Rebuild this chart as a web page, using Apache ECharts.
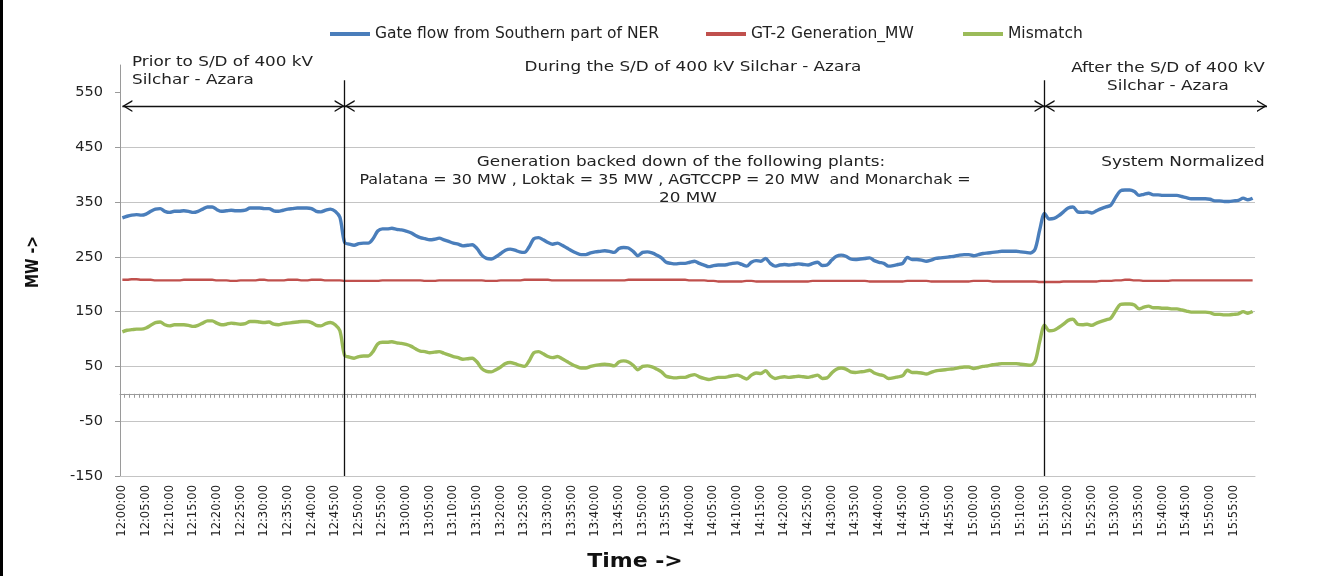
<!DOCTYPE html>
<html>
<head>
<meta charset="utf-8">
<script src="https://cdn.jsdelivr.net/npm/echarts@6/dist/echarts.min.js"></script>
<style>
  html, body { margin: 0; background: #fff; }
  #chart { width: 1339px; height: 576px; }
</style>
</head>
<body>
<div id="chart"></div>
<script>
/* ---- data (one reading per minute, 12:00 .. 15:59) ---- */
const gateFlow = [
  321, 324, 326, 327, 326, 328, 333, 337, 338, 333,
  331, 333, 333, 334, 333, 331, 333, 337, 341, 341,
  336, 333, 334, 335, 334, 334, 335, 339, 339, 339,
  338, 338, 334, 333, 335, 337, 338, 339, 339, 339,
  338, 333, 332, 335, 337, 333, 322, 276, 273, 271,
  274, 275, 275, 283, 297, 301, 301, 302, 300, 299,
  297, 294, 289, 285, 283, 281, 282, 284, 281, 278,
  275, 273, 270, 271, 272, 265, 253, 247, 246, 250,
  256, 262, 264, 262, 259, 258, 268, 283, 285, 281,
  276, 273, 275, 271, 266, 261, 257, 254, 254, 257,
  259, 260, 261, 260, 258, 265, 267, 266, 260, 252,
  258, 259, 257, 253, 248, 240, 238, 237, 238, 238,
  240, 242, 238, 235, 232, 234, 235, 235, 236, 238,
  239, 236, 233, 240, 243, 242, 247, 238, 233, 235,
  236, 235, 236, 237, 236, 235, 238, 240, 234, 235,
  244, 251, 253, 251, 246, 245, 246, 247, 248, 243,
  240, 238, 233, 234, 236, 238, 249, 245, 245, 244,
  242, 244, 247, 248, 249, 250, 251, 253, 254, 254,
  252, 254, 256, 257, 258, 259, 260, 260, 260, 260,
  259, 258, 257, 264, 300, 329, 319, 320, 325, 332,
  339, 341, 332, 331, 332, 330, 334, 338, 341, 344,
  358, 370, 372, 372, 369, 362, 364, 366, 363, 363,
  362, 362, 362, 362, 360, 358, 356, 356, 356, 356,
  355, 352, 352, 351, 351, 352, 353, 357, 354, 357
];
const gt2Generation = [
  208, 208, 209, 209, 208, 208, 208, 207, 207, 207,
  207, 207, 207, 208, 208, 208, 208, 208, 208, 208,
  207, 207, 207, 206, 206, 207, 207, 207, 207, 208,
  208, 207, 207, 207, 207, 208, 208, 208, 207, 207,
  208, 208, 208, 207, 207, 207, 207, 206, 206, 206,
  206, 206, 206, 206, 206, 207, 207, 207, 207, 207,
  207, 207, 207, 207, 206, 206, 206, 207, 207, 207,
  207, 207, 207, 207, 207, 207, 207, 206, 206, 206,
  207, 207, 207, 207, 207, 208, 208, 208, 208, 208,
  208, 207, 207, 207, 207, 207, 207, 207, 207, 207,
  207, 207, 207, 207, 207, 207, 207, 208, 208, 208,
  208, 208, 208, 208, 208, 208, 208, 208, 208, 208,
  207, 207, 207, 207, 206, 206, 205, 205, 205, 205,
  205, 205, 206, 206, 205, 205, 205, 205, 205, 205,
  205, 205, 205, 205, 205, 205, 206, 206, 206, 206,
  206, 206, 206, 206, 206, 206, 206, 206, 205, 205,
  205, 205, 205, 205, 205, 205, 206, 206, 206, 206,
  206, 205, 205, 205, 205, 205, 205, 205, 205, 205,
  206, 206, 206, 206, 205, 205, 205, 205, 205, 205,
  205, 205, 205, 205, 204, 204, 204, 204, 204, 205,
  205, 205, 205, 205, 205, 205, 205, 206, 206, 206,
  207, 207, 208, 208, 207, 207, 206, 206, 206, 206,
  206, 206, 207, 207, 207, 207, 207, 207, 207, 207,
  207, 207, 207, 207, 207, 207, 207, 207, 207, 207
];
const mismatch = [
  113, 116, 117, 118, 118, 120, 125, 130, 131, 126,
  124, 126, 126, 126, 125, 123, 125, 129, 133, 133,
  129, 126, 127, 129, 128, 127, 128, 132, 132, 131,
  130, 131, 127, 126, 128, 129, 130, 131, 132, 132,
  130, 125, 124, 128, 130, 126, 115, 70, 67, 65,
  68, 69, 69, 77, 91, 94, 94, 95, 93, 92,
  90, 87, 82, 78, 77, 75, 76, 77, 74, 71,
  68, 66, 63, 64, 65, 58, 46, 41, 40, 44,
  49, 55, 57, 55, 52, 50, 60, 75, 77, 73,
  68, 66, 68, 64, 59, 54, 50, 47, 47, 50,
  52, 53, 54, 53, 51, 58, 60, 58, 52, 44,
  50, 51, 49, 45, 40, 32, 30, 29, 30, 30,
  33, 35, 31, 28, 26, 28, 30, 30, 31, 33,
  34, 31, 27, 34, 38, 37, 42, 33, 28, 30,
  31, 30, 31, 32, 31, 30, 32, 34, 28, 29,
  38, 45, 47, 45, 40, 39, 40, 41, 43, 38,
  35, 33, 28, 29, 31, 33, 43, 39, 39, 38,
  36, 39, 42, 43, 44, 45, 46, 48, 49, 49,
  46, 48, 50, 51, 53, 54, 55, 55, 55, 55,
  54, 53, 52, 59, 96, 125, 115, 116, 121, 127,
  134, 136, 127, 126, 127, 125, 129, 132, 135, 138,
  151, 163, 164, 164, 162, 155, 158, 160, 157, 157,
  156, 156, 155, 155, 153, 151, 149, 149, 149, 149,
  148, 145, 145, 144, 144, 145, 146, 150, 147, 150
];
const seriesNames = ["Gate flow from Southern part of NER", "GT-2 Generation_MW", "Mismatch"];
const seriesColors = ["#4A7EBB", "#C0504D", "#9BBB59"];
const yTicks = [-150, -50, 50, 150, 250, 350, 450, 550];

// time categories, one per minute
const times = [];
for (let m = 0; m < gateFlow.length; m++) {
  const h = 12 + Math.floor(m / 60), mm = m % 60;
  times.push(h + ":" + String(mm).padStart(2, "0") + ":00");
}

/* ---- annotation anchors (data coords) ---- */
const sdStart = "12:47:00", sdEnd = "15:15:00";
const arrowLevel = 525, dividerTop = 572;

const FONT = "DejaVu Sans";
const GRID = "#c4c4c4", AXIS = "#9a9a9a", INK = "#222";
const SX = 1.16; // the source text is a little wide

// open chevron, tip at top centre
const chevron = "path://M6,0 L12,10 L10.4,10 L6,2.6 L1.6,10 L0,10 Z";
const arrowStyle = { color: "#111", width: 1.3, type: "solid" };
const divStyle = { color: "#111", width: 1.3, type: "solid" };
const arrowEnd = { symbol: chevron, symbolSize: [12, 10], symbolOffset: [0, 5] };

function note(x, y, text, align, sx) {
  return {
    type: "text", x, y, scaleX: sx || SX,
    style: { text, font: `14.5px '${FONT}'`, fill: INK, align: align || "center", verticalAlign: "middle", lineHeight: 18 },
  };
}

function legendAt(i, left) {
  return {
    data: [seriesNames[i]], left, top: 26, padding: 0,
    icon: "rect", itemWidth: 40, itemHeight: 4,
    textStyle: { fontFamily: FONT, fontSize: 15.5, color: INK },
  };
}

const chart = echarts.init(document.getElementById("chart"), null, { renderer: "canvas" });

chart.setOption({
  animation: false,
  backgroundColor: "#fff",
  textStyle: { fontFamily: FONT },
  legend: [legendAt(0, 330), legendAt(1, 706), legendAt(2, 963)],
  grid: { left: 120, right: 84, top: 65, bottom: 100 },
  xAxis: [
    {
      type: "category", data: times, position: "bottom",
      axisLine: { onZero: false, lineStyle: { color: GRID } },
      axisTick: { show: false },
      axisLabel: { interval: 4, rotate: 90, fontFamily: FONT, fontSize: 11.5, color: INK, margin: 9 },
      splitLine: { show: false },
    },
    {
      type: "category", data: times, position: "bottom",
      axisLine: { onZero: true, lineStyle: { color: AXIS } },
      axisTick: { show: true, interval: 0, length: 4, lineStyle: { color: AXIS } },
      axisLabel: { show: false },
      splitLine: { show: false },
    },
  ],
  yAxis: {
    type: "value", min: -150, max: 600,
    axisLine: { show: true, lineStyle: { color: AXIS } },
    axisTick: { show: true, length: 5, customValues: yTicks, lineStyle: { color: AXIS } },
    axisLabel: { customValues: yTicks, fontFamily: FONT, fontSize: 14.5, color: INK, margin: 17 },
    splitLine: { show: true, showMaxLine: false, lineStyle: { color: GRID, width: 1.2 } },
  },
  series: [
    {
      name: seriesNames[0], type: "line", data: gateFlow, showSymbol: false, smooth: 0.3,
      lineStyle: { width: 3.4, color: seriesColors[0] }, itemStyle: { color: seriesColors[0] }, z: 3,
    },
    {
      name: seriesNames[1], type: "line", data: gt2Generation, showSymbol: false, smooth: 0.3,
      lineStyle: { width: 2.4, color: seriesColors[1] }, itemStyle: { color: seriesColors[1] }, z: 3,
      markLine: {
        silent: true, animation: false, label: { show: false },
        data: [
          // S/D period dividers
          [{ coord: [sdStart, -150], symbol: "none", lineStyle: divStyle },
           { coord: [sdStart, dividerTop], symbol: "none" }],
          [{ coord: [sdEnd, -150], symbol: "none", lineStyle: divStyle },
           { coord: [sdEnd, dividerTop], symbol: "none" }],
          // period arrows
          [Object.assign({ coord: [times[0], arrowLevel], lineStyle: arrowStyle }, arrowEnd),
           Object.assign({ coord: [sdStart, arrowLevel] }, arrowEnd)],
          [Object.assign({ coord: [sdStart, arrowLevel], lineStyle: arrowStyle }, arrowEnd),
           Object.assign({ coord: [sdEnd, arrowLevel] }, arrowEnd)],
          [Object.assign({ coord: [sdEnd, arrowLevel], lineStyle: arrowStyle }, arrowEnd),
           Object.assign({ x: 1267, y: 106 }, arrowEnd)],
        ],
      },
    },
    {
      name: seriesNames[2], type: "line", data: mismatch, showSymbol: false, smooth: 0.3,
      lineStyle: { width: 3.4, color: seriesColors[2] }, itemStyle: { color: seriesColors[2] }, z: 3,
    },
  ],
  graphic: [
    { type: "rect", left: 0, top: 0, shape: { width: 3, height: 576 }, style: { fill: "#000" } },
    note(132, 71, "Prior to S/D of 400 kV\nSilchar - Azara", "left"),
    note(693, 67, "During the S/D of 400 kV Silchar - Azara"),
    note(1168, 77, "After the S/D of 400 kV\nSilchar - Azara"),
    note(681, 162, "Generation backed down of the following plants:"),
    note(665, 180, "Palatana = 30 MW , Loktak = 35 MW , AGTCCPP = 20 MW  and Monarchak =", "center", 1.1),
    note(688, 198, "20 MW"),
    note(1183, 162, "System Normalized"),
    { type: "text", x: 635, y: 562, scaleX: 1.1, style: { text: "Time ->", font: `bold 20px '${FONT}'`, fill: "#111", align: "center", verticalAlign: "middle" } },
    { type: "text", x: 33, y: 262, rotation: Math.PI / 2, scaleX: 0.78, style: { text: "MW ->", font: `bold 18px '${FONT}'`, fill: "#111", align: "center", verticalAlign: "middle" } },
  ],
});
</script>
</body>
</html>
